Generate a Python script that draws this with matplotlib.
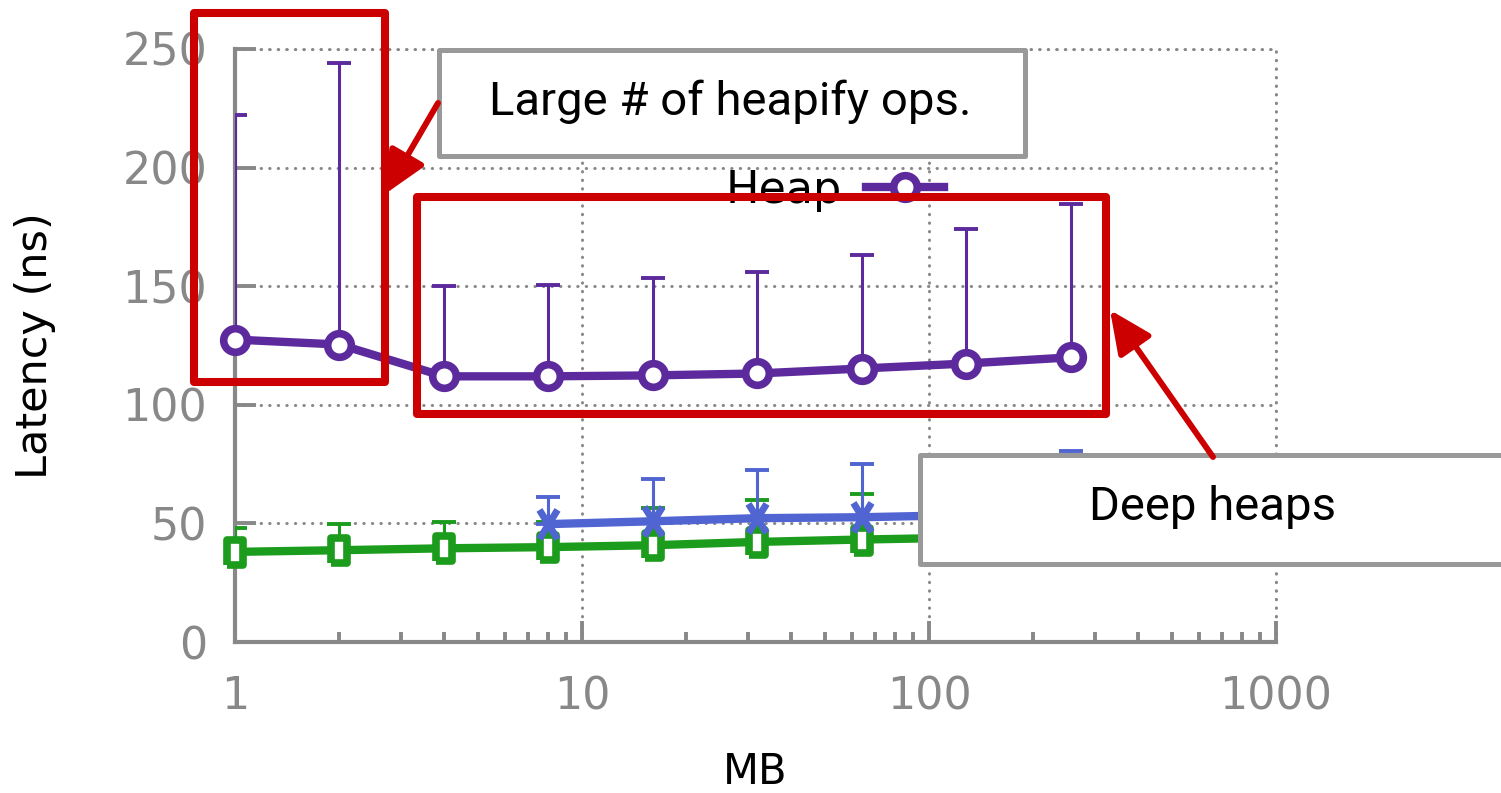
import numpy as np
import matplotlib
matplotlib.use("Agg")
import matplotlib.pyplot as plt
from matplotlib.patches import Rectangle, FancyArrowPatch
from matplotlib.path import Path
from matplotlib.ticker import FixedLocator, FixedFormatter, LogLocator, NullFormatter

# data
sizes_mb = [1, 2, 4, 8, 16, 32, 64, 128, 256]
heap_mean = [127.5, 125.4, 112.0, 112.0, 112.4, 113.2, 115.3, 117.4, 120.0]
heap_top = [222.2, 244.0, 150.0, 150.3, 153.6, 156.0, 163.3, 174.2, 184.8]

blue_sizes = [8, 16, 32, 64, 128, 256]
blue_mean = [49.7, 50.9, 52.2, 52.6, 53.5, 55.0]
blue_top = [61.2, 68.6, 72.4, 75.2, 78.0, 80.4]

green_mean = [38.0, 38.7, 39.5, 40.0, 40.8, 42.2, 43.2, 44.0, 45.0]
green_top = [48.1, 49.7, 50.6, 50.6, 56.3, 59.8, 62.6, 64.0, 66.0]

x_ticks = [1, 10, 100, 1000]
x_tick_labels = ["1", "10", "100", "1000"]
y_ticks = [0, 50, 100, 150, 200, 250]

PURPLE = "#5c2a9d"
BLUE = "#5064d2"
GREEN = "#1c9c1c"
RED = "#cc0000"
BOXGREY = "#999999"
AXGREY = "#888888"
DOTS = (0, (0.1, 2.7))

W, H = 1501, 793


def px(x, y):
    return (x / W, 1 - y / H)


fig = plt.figure(figsize=(W / 100, H / 100), dpi=100)
ax = fig.add_axes([235 / W, (H - 642) / H, (1276 - 235) / W, (642 - 49) / H])

tall_square = [(-0.62, -1), (0.62, -1), (0.62, 1), (-0.62, 1), (-0.62, -1)]
tall_cross = Path([(-0.62, -1), (0.62, 1), (-0.62, 1), (0.62, -1)],
                  [Path.MOVETO, Path.LINETO, Path.MOVETO, Path.LINETO])


def up_bars(xs, mean, top, color):
    mean = np.array(mean)
    err = np.array(top) - mean
    ax.errorbar(xs, mean, yerr=[np.zeros_like(err), err], fmt="none",
                ecolor=color, elinewidth=2.2, capsize=8.6, capthick=2.8, zorder=3)


up_bars(sizes_mb, green_mean, green_top, GREEN)
ax.plot(sizes_mb, green_mean, color=GREEN, lw=6, marker=tall_square, ms=18,
        mew=5.5, mfc="white", clip_on=False, zorder=4)

up_bars(blue_sizes, blue_mean, blue_top, BLUE)
ax.plot(blue_sizes, blue_mean, color=BLUE, lw=6, marker=tall_cross, ms=21,
        mew=5, clip_on=False, zorder=4)

up_bars(sizes_mb, heap_mean, heap_top, PURPLE)
heap_line, = ax.plot(sizes_mb, heap_mean, color=PURPLE, lw=6, marker="o", ms=17,
                     mew=5.5, mfc="white", clip_on=False, zorder=5)

ax.set_xscale("log")
ax.set_xlim(1, 1000)
ax.set_ylim(0, 250)
ax.xaxis.set_major_locator(FixedLocator(x_ticks))
ax.xaxis.set_major_formatter(FixedFormatter(x_tick_labels))
ax.xaxis.set_minor_locator(LogLocator(base=10, subs=np.arange(2, 10)))
ax.xaxis.set_minor_formatter(NullFormatter())
ax.set_yticks(y_ticks)

ax.tick_params(axis="both", which="major", direction="in", length=15, width=2.8,
               color=AXGREY, labelcolor=AXGREY, labelsize=32)
ax.tick_params(axis="x", which="major", pad=24)
ax.tick_params(axis="y", which="major", pad=20)
ax.tick_params(axis="x", which="minor", direction="in", length=7.5, width=2.8,
               color=AXGREY)
ax.tick_params(top=False, right=False, which="both")

for side in ["left", "bottom"]:
    ax.spines[side].set_color(AXGREY)
    ax.spines[side].set_linewidth(3)
for side in ["top", "right"]:
    ax.spines[side].set_color(AXGREY)
    ax.spines[side].set_linewidth(2.2)
    ax.spines[side].set_linestyle(DOTS)
    ax.spines[side].set_capstyle("round")

ax.grid(True, which="major", color=AXGREY, linestyle=DOTS, linewidth=2.2,
        dash_capstyle="round")
ax.set_axisbelow(True)

ax.set_ylabel("Latency (ns)", fontsize=31, color="black")
ax.yaxis.set_label_coords((35 - 235) / (1276 - 235), 0.5)
ax.yaxis.label.set_va("center")
ax.set_xlabel("MB", fontsize=30, color="black")
ax.xaxis.set_label_coords(0.5, (642 - 772) / (642 - 49))
ax.xaxis.label.set_va("center")

ax.legend(handles=[heap_line], labels=["Heap"], markerfirst=False, frameon=False,
          fontsize=32, handlelength=1.75, handletextpad=0.55, loc="center",
          bbox_to_anchor=px(835, 190), bbox_transform=fig.transFigure,
          borderpad=0, borderaxespad=0)


# annotation boxes
def box(x0, y0, x1, y1, color, lw, fill):
    (fx0, fy1), (fx1, fy0) = px(x0, y0), px(x1, y1)
    fig.add_artist(Rectangle((fx0, fy0), fx1 - fx0, fy1 - fy0, transform=fig.transFigure,
                             facecolor="white" if fill else "none", edgecolor=color,
                             lw=lw, joinstyle="round", zorder=10))


def arrow(x0, y0, x1, y1):
    fig.add_artist(FancyArrowPatch(px(x0, y0), px(x1, y1), transform=fig.transFigure,
                                   arrowstyle="-|>,head_length=26,head_width=12",
                                   mutation_scale=1, color=RED, lw=4.3,
                                   shrinkA=0, shrinkB=0, zorder=11))


box(438.5, 50, 1024.5, 156, BOXGREY, 3.6, True)
fig.text(*px(730.5, 115), "Large # of heapify ops.", fontsize=34, family="Roboto",
         ha="center", va="baseline", zorder=12)

box(920, 455.5, 1515, 563.5, BOXGREY, 3.6, True)
fig.text(*px(1213, 520), "Deep heaps", fontsize=34, family="Roboto",
         ha="center", va="baseline", zorder=12)

box(193.5, 12.5, 385, 382.5, RED, 5.8, False)
box(416.5, 197, 1106, 413.5, RED, 5.8, False)

arrow(438, 103, 385, 194)
arrow(1213, 457, 1110, 310)

fig.savefig("out.png", dpi=100)
